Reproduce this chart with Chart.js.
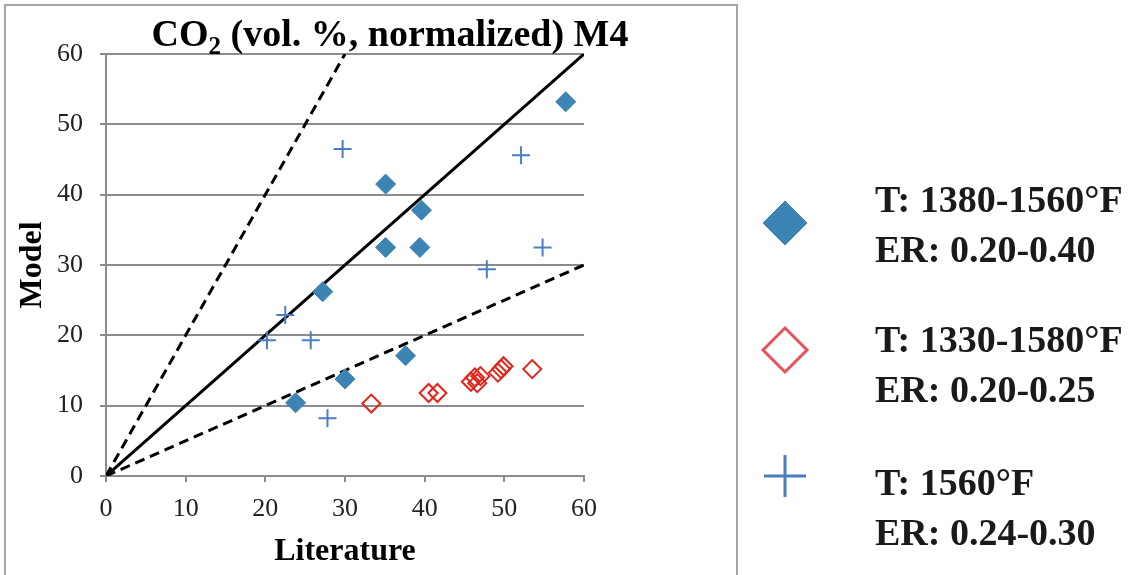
<!DOCTYPE html>
<html>
<head>
<meta charset="utf-8">
<script src="https://cdn.jsdelivr.net/npm/chart.js@4.4.1/dist/chart.umd.min.js"></script>
<style>
  html, body { margin: 0; padding: 0; background: #fff; }
</style>
</head>
<body>
<canvas id="myChart" width="1138" height="575"></canvas>
<script>
// series (Literature vs Model, CO2 vol. %)
const blueX = [23.8, 30.0, 27.2, 35.1, 35.1, 39.6, 39.4, 37.6, 57.7]
const blueY = [10.4, 13.8, 26.2, 41.5, 32.5, 37.8, 32.5, 17.1, 53.2]
const redX = [33.3, 40.5, 41.6, 45.8, 46.3, 46.6, 47.0, 49.2, 49.6, 49.9, 53.5]
const redY = [10.3, 11.8, 11.8, 13.4, 14.0, 13.2, 14.2, 14.7, 15.2, 15.6, 15.2]
const crossX = [29.7, 52.1, 54.8, 47.8, 22.5, 20.2, 25.7, 27.8]
const crossY = [46.5, 45.6, 32.5, 29.4, 22.9, 19.3, 19.3, 8.2]

// reference lines 1:1, 2:1 and 1:2
const parityX = [0, 60]
const parityY = [0, 60]
const upperX = [0, 30]
const upperY = [0, 60]
const lowerX = [0, 60]
const lowerY = [0, 30]

const legendLabels = [
  ['T: 1380-1560°F', 'ER: 0.20-0.40'],
  ['T: 1330-1580°F', 'ER: 0.20-0.25'],
  ['T: 1560°F', 'ER: 0.24-0.30']
]
const axisTicks = [0, 10, 20, 30, 40, 50, 60]

const toPts = (xs, ys) => xs.map((x, i) => ({ x: x, y: ys[i] }))

const serif = '"Liberation Serif", "Times New Roman", serif'
const gridGray = '#8c8c8c'

const blueFill = '#3c84b4'
const red = '#e3241b'
const crossBlue = '#4a7ebf'

// frame, title with subscript, and the two-line legend on the right
const extras = {
  id: 'extras',
  beforeDraw(chart) {
    const ctx = chart.ctx
    ctx.save()
    ctx.fillStyle = '#fff'
    ctx.fillRect(0, 0, chart.width, chart.height)
    ctx.strokeStyle = '#a6a6a6'
    ctx.lineWidth = 2
    ctx.strokeRect(5, 5, 732, 590)
    ctx.restore()
  },
  afterDraw(chart) {
    const ctx = chart.ctx
    ctx.save()
    // title
    ctx.fillStyle = '#000'
    ctx.textBaseline = 'alphabetic'
    const big = 'bold 38px ' + serif
    const small = 'bold 25px ' + serif
    const parts = [['CO', big, 0], ['2', small, 8], [' (vol. %, normalized) M4', big, 0]]
    let total = 0
    parts.forEach(p => { ctx.font = p[1]; total += ctx.measureText(p[0]).width })
    let x = 390 - total / 2
    parts.forEach(p => {
      ctx.font = p[1]
      ctx.fillText(p[0], x, 46 + p[2])
      x += ctx.measureText(p[0]).width
    })

    // legend
    const markerY = [223, 350, 476]
    const textY = [212, 352, 495]
    const styles = [
      { pointStyle: 'rectRot', radius: 22, borderWidth: 1, fill: blueFill, stroke: blueFill },
      { pointStyle: 'rectRot', radius: 22, borderWidth: 3, fill: 'rgba(0,0,0,0)', stroke: '#e8505a' },
      { pointStyle: 'cross', radius: 21, borderWidth: 3, fill: crossBlue, stroke: crossBlue }
    ]
    styles.forEach((s, i) => {
      ctx.fillStyle = s.fill
      ctx.strokeStyle = s.stroke
      ctx.lineWidth = s.borderWidth
      Chart.helpers.drawPoint(ctx, { pointStyle: s.pointStyle, radius: s.radius, rotation: 0, borderWidth: s.borderWidth }, 785, markerY[i])
      ctx.fillStyle = '#1a1a1a'
      ctx.font = 'bold 38px ' + serif
      legendLabels[i].forEach((line, j) => {
        ctx.fillText(line, 875, textY[i] + j * 50)
      })
    })
    ctx.restore()
  }
}

const ctx = document.getElementById('myChart').getContext('2d')
const myChart = new Chart(ctx, {
  type: 'scatter',
  data: {
    datasets: [
      {
        label: legendLabels[0].join(' '),
        data: toPts(blueX, blueY),
        pointStyle: 'rectRot',
        pointRadius: 10,
        backgroundColor: blueFill,
        borderColor: blueFill,
        borderWidth: 1
      },
      {
        label: legendLabels[1].join(' '),
        data: toPts(redX, redY),
        pointStyle: 'rectRot',
        pointRadius: 9,
        backgroundColor: 'rgba(0,0,0,0)',
        borderColor: red,
        borderWidth: 2
      },
      {
        label: legendLabels[2].join(' '),
        data: toPts(crossX, crossY),
        pointStyle: 'cross',
        pointRadius: 9,
        borderColor: crossBlue,
        borderWidth: 2
      },
      {
        label: '1:1',
        data: toPts(parityX, parityY),
        showLine: true,
        pointRadius: 0,
        borderColor: '#000',
        borderWidth: 3
      },
      {
        label: '2:1',
        data: toPts(upperX, upperY),
        showLine: true,
        pointRadius: 0,
        borderColor: '#000',
        borderWidth: 3,
        borderDash: [10, 6]
      },
      {
        label: '1:2',
        data: toPts(lowerX, lowerY),
        showLine: true,
        pointRadius: 0,
        borderColor: '#000',
        borderWidth: 3,
        borderDash: [10, 6]
      }
    ]
  },
  options: {
    responsive: false,
    animation: false,
    layout: {
      padding: { left: 0, top: 54, right: 1138 - 584, bottom: 0 }
    },
    plugins: {
      legend: { display: false },
      title: { display: false },
      tooltip: { enabled: false }
    },
    scales: {
      x: {
        type: 'linear',
        min: 0,
        max: 60,
        afterBuildTicks: s => { s.ticks = axisTicks.map(v => ({ value: v })) },
        afterFit: s => { s.height = 99 },
        ticks: {
          color: '#222',
          padding: 12,
          font: { family: serif, size: 26 }
        },
        grid: { drawOnChartArea: false, drawTicks: true, tickLength: 6, color: gridGray, lineWidth: 2 },
        border: { display: true, color: gridGray, width: 2 },
        title: {
          display: true,
          text: 'Literature',
          color: '#000',
          font: { family: serif, size: 32, weight: 'bold' },
          padding: { top: 0, bottom: 4 }
        }
      },
      y: {
        type: 'linear',
        min: 0,
        max: 60,
        afterBuildTicks: s => { s.ticks = axisTicks.map(v => ({ value: v })) },
        afterFit: s => { s.width = 106 },
        ticks: {
          color: '#222',
          padding: 17,
          font: { family: serif, size: 26 }
        },
        grid: { drawOnChartArea: true, drawTicks: true, tickLength: 6, color: gridGray, lineWidth: 2 },
        border: { display: true, color: gridGray, width: 2 },
        title: {
          display: true,
          text: 'Model',
          color: '#000',
          font: { family: serif, size: 32, weight: 'bold' },
          padding: { top: 14, bottom: 0 }
        }
      }
    }
  },
  plugins: [extras]
})
</script>
</body>
</html>
